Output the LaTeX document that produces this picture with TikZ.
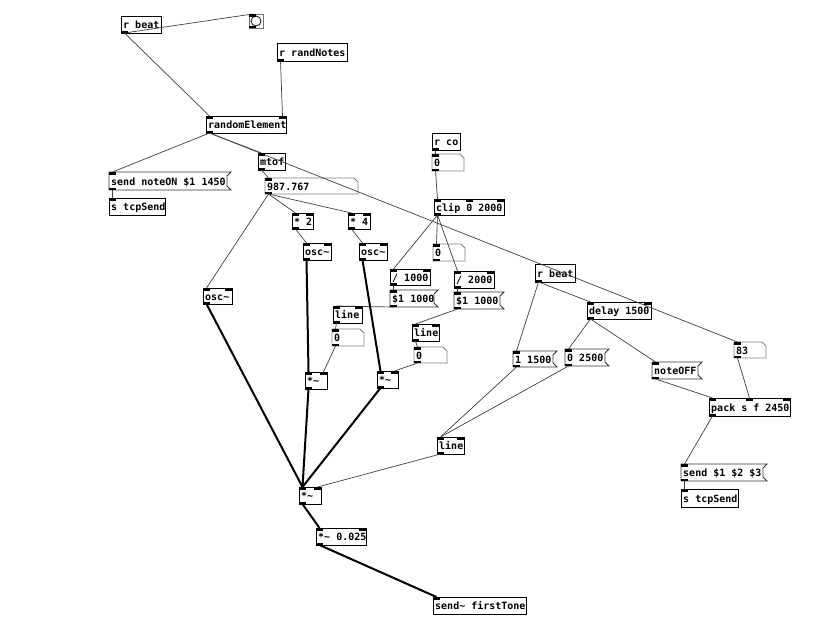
\documentclass[tikz,border=0pt]{standalone}
\usepackage{fontspec}
\newfontfamily\pdfont{DejaVu Sans Mono}
\usetikzlibrary{calc}
\tikzset{
  pdnode/.style={inner sep=0pt,outer sep=0pt,anchor=north west,draw=none},
  pdtext/.style={inner sep=0pt,anchor=base west,font=\pdfont\bfseries\fontsize{10}{10}\selectfont},
  objline/.style={draw=black,line width=0.8pt},
  msgline/.style={draw=black!80,line width=0.8pt},
  atomline/.style={draw=black!50,line width=0.8pt},
  ctl/.style={draw=black!75,line width=0.7pt},
  sig/.style={draw=black,line width=2pt},
  iolet/.style={fill=black}
}
\newcommand\tld{\char"7E\relax}
% object box: name, x, y, w, h, text
\newcommand\pdobj[6]{%
  \node[pdnode,minimum width=#4pt,minimum height=#5pt] (#1) at (#2,#3) {};
  \draw[objline] (#1.north west) rectangle (#1.south east);
  \node[pdtext] at ([xshift=2pt,yshift=-4.3pt]#1.west) {#6};}
\newcommand\pdmsg[6]{%
  \node[pdnode,minimum width=#4pt,minimum height=#5pt] (#1) at (#2,#3) {};
  \draw[msgline] (#1.north west) -- (#1.north east) -- ([xshift=-4pt,yshift=-4pt]#1.north east)
     -- ([xshift=-4pt,yshift=4pt]#1.south east) -- (#1.south east) -- (#1.south west) -- cycle;
  \node[pdtext] at ([xshift=2pt,yshift=-4.3pt]#1.west) {#6};}
\newcommand\pdatom[6]{%
  \node[pdnode,minimum width=#4pt,minimum height=#5pt] (#1) at (#2,#3) {};
  \draw[atomline] (#1.north west) -- ([xshift=-4pt]#1.north east) -- ([yshift=-4pt]#1.north east)
     -- (#1.south east) -- (#1.south west) -- cycle;
  \node[pdtext] at ([xshift=2pt,yshift=-4.3pt]#1.west) {#6};}
\newcommand\inL[1]{\fill[iolet] (#1.north west) rectangle ++(7,2.5);}
\newcommand\inR[1]{\fill[iolet] (#1.north east) rectangle ++(-7,2.5);}
\newcommand\inM[1]{\fill[iolet] ($(#1.north west)!.5!(#1.north east)+(-3.5,0)$) rectangle ++(7,2.5);}
\newcommand\outL[1]{\fill[iolet] (#1.south west) rectangle ++(7,-2.5);}
\newcommand\wire[3][ctl]{\draw[#1] ([xshift=3.5pt]#2.south west) -- ([xshift=3.5pt]#3.north west);}
\newcommand\wireR[3][ctl]{\draw[#1] ([xshift=3.5pt]#2.south west) -- ([xshift=-3.5pt]#3.north east);}
\newcommand\wireM[3][ctl]{\draw[#1] ([xshift=3.5pt]#2.south west) -- ($(#3.north west)!.5!(#3.north east)$);}
\begin{document}
\begin{tikzpicture}[x=1pt,y=-1pt]
\useasboundingbox[fill=white] (0,0) rectangle (829,637);
% ---------- boxes ----------
\pdobj{rbA}{121}{16}{40}{17}{r beat}
\node[pdnode,minimum width=14pt,minimum height=14pt] (bang) at (249,14) {};
\pdobj{rn}{277}{43}{70}{18}{r randNotes}
\pdobj{re}{206}{116}{80}{17}{randomElement}
\pdmsg{msgOn}{109}{172}{122}{18}{send noteON \$1 1450}
\pdobj{tcpA}{109}{198}{56}{17}{s tcpSend}
\pdobj{mtof}{258}{153}{27}{17}{mtof}
\pdatom{num}{265}{178}{93}{16}{987.767}
\pdobj{mtwo}{292}{213}{21}{16}{* 2}
\pdobj{mfour}{348}{213}{22}{16}{* 4}
\pdobj{oscA}{303}{243}{28}{17}{osc\tld}
\pdobj{oscB}{359}{243}{28}{17}{osc\tld}
\pdobj{oscC}{203}{288}{29}{16}{osc\tld}
\pdobj{rco}{432}{133}{28}{17}{r co}
\pdatom{aA}{432}{154}{32}{17}{0}
\pdobj{clip}{434}{199}{70}{16}{clip 0 2000}
\pdatom{aB}{433}{244}{32}{17}{0}
\pdobj{dA}{390}{269}{40}{16}{/ 1000}
\pdobj{dB}{454}{271}{40}{17}{/ 2000}
\pdmsg{msgA}{390}{290}{48}{17}{\$1 1000}
\pdmsg{msgB}{454}{292}{50}{17}{\$1 1000}
\pdobj{lineA}{333}{306}{29}{17}{line}
\pdatom{aC}{332}{329}{32}{17}{0}
\pdobj{lineB}{412}{324}{27}{17}{line}
\pdatom{aD}{414}{347}{33}{16}{0}
\pdobj{mulA}{305}{372}{22}{17}{*\tld}
\pdobj{mulB}{377}{371}{21}{17}{*\tld}
\pdobj{lineC}{437}{437}{27}{17}{line}
\pdobj{mulC}{299}{487}{22}{17}{*\tld}
\pdobj{mulD}{316}{528}{50}{17}{*\tld{} 0.025}
\pdobj{sfirst}{433}{597}{93}{17}{send\tld{} firstTone}
\pdobj{rbB}{535}{264}{40}{18}{r beat}
\pdobj{delay}{587}{302}{64}{17}{delay 1500}
\pdmsg{mOne}{513}{351}{44}{16}{1 1500}
\pdmsg{mZero}{565}{349}{44}{17}{0 2500}
\pdmsg{noff}{652}{362}{50}{17}{noteOFF}
\pdatom{aE}{734}{342}{32}{16}{83}
\pdobj{pack}{709}{398}{81}{18}{pack s f 2450}
\pdmsg{msgS}{681}{464}{86}{17}{send \$1 \$2 \$3}
\pdobj{tcpB}{681}{489}{57}{18}{s tcpSend}
% bang drawing
\draw[draw=black!55,line width=0.8pt] (bang.north west) rectangle (bang.south east);
\draw[black!85,line width=0.9pt] (bang.center) circle[radius=5];
% ---------- control wires ----------
\wire{rbA}{re}
\wire{rbA}{bang}
\wireR{rn}{re}
\wire{re}{msgOn}
\wire{re}{mtof}
\wire{re}{aE}
\wire{msgOn}{tcpA}
\wire{mtof}{num}
\wire{num}{mtwo}
\wire{num}{mfour}
\wire{num}{oscC}
\wire{mtwo}{oscA}
\wire{mfour}{oscB}
\wire{rco}{aA}
\wire{aA}{clip}
\wire{clip}{dA}
\wire{clip}{aB}
\wire{clip}{dB}
\wire{dA}{msgA}
\wire{dB}{msgB}
\wire{msgA}{lineA}
\wire{lineA}{aC}
\wireR{aC}{mulA}
\wire{msgB}{lineB}
\wire{lineB}{aD}
\wireR{aD}{mulB}
\wire{rbB}{delay}
\wire{rbB}{mOne}
\wire{delay}{mZero}
\wire{delay}{noff}
\wire{mOne}{lineC}
\wire{mZero}{lineC}
\wireR{lineC}{mulC}
\wire{noff}{pack}
\wireM{aE}{pack}
\wire{pack}{msgS}
\wire{msgS}{tcpB}
% ---------- signal wires ----------
\wire[sig]{oscA}{mulA}
\wire[sig]{oscB}{mulB}
\wire[sig]{oscC}{mulC}
\wire[sig]{mulA}{mulC}
\wire[sig]{mulB}{mulC}
\wire[sig]{mulC}{mulD}
\wire[sig]{mulD}{sfirst}
% ---------- inlets / outlets ----------
\outL{rbA}
\inL{bang}\outL{bang}
\outL{rn}
\inL{re}\inR{re}\outL{re}
\inL{msgOn}\outL{msgOn}
\inL{tcpA}
\inL{mtof}\outL{mtof}
\inL{num}\outL{num}
\inL{mtwo}\inR{mtwo}\outL{mtwo}
\inL{mfour}\inR{mfour}\outL{mfour}
\inL{oscA}\inR{oscA}\outL{oscA}
\inL{oscB}\inR{oscB}\outL{oscB}
\inL{oscC}\inR{oscC}\outL{oscC}
\outL{rco}
\inL{aA}\outL{aA}
\inL{clip}\inM{clip}\inR{clip}\outL{clip}
\inL{aB}\outL{aB}
\inL{dA}\inR{dA}\outL{dA}
\inL{dB}\inR{dB}\outL{dB}
\inL{msgA}\outL{msgA}
\inL{msgB}\outL{msgB}
\inL{lineA}\inR{lineA}\outL{lineA}
\inL{aC}\outL{aC}
\inL{lineB}\inR{lineB}\outL{lineB}
\inL{aD}\outL{aD}
\inL{mulA}\inR{mulA}\outL{mulA}
\inL{mulB}\inR{mulB}\outL{mulB}
\inL{lineC}\inR{lineC}\outL{lineC}
\inL{mulC}\inR{mulC}\outL{mulC}
\inL{mulD}\inR{mulD}\outL{mulD}
\inL{sfirst}
\outL{rbB}
\inL{delay}\inR{delay}\outL{delay}
\inL{mOne}\outL{mOne}
\inL{mZero}\outL{mZero}
\inL{noff}\outL{noff}
\inL{aE}\outL{aE}
\inL{pack}\inM{pack}\inR{pack}\outL{pack}
\inL{msgS}\outL{msgS}
\inL{tcpB}
\end{tikzpicture}
\end{document}
